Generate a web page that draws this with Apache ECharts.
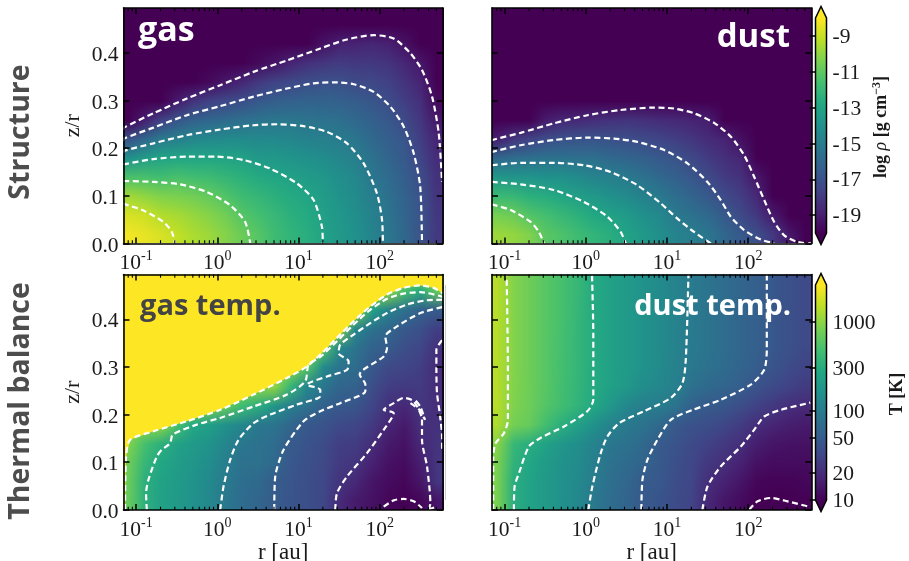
<!DOCTYPE html>
<html><head><meta charset="utf-8">
<style>html,body{margin:0;padding:0;background:#fff}#c{width:909px;height:561px}</style>
<script src="https://cdn.jsdelivr.net/npm/echarts@6/dist/echarts.min.js"></script>
</head><body><div id="c"></div>
<script>
const logRCenters=[-1.1,-.9,-.7,-.5,-.3,-.1,.1,.3,.5,.7,.9,1.1,1.3,1.5,1.7,1.9,2.1,2.3,2.5,2.7];
const zCenters=[.02,.06,.10,.14,.18,.22,.26,.30,.34,.38,.42,.46,.50];
const xMajorTicks=[.1,1,10,100];
const xMinorTicks=[.08,.09,.2,.3,.4,.5,.6,.7,.8,.9,2,3,4,5,6,7,8,9,20,30,40,50,60,70,80,90,200,300,400,500];
const yTicks=[0,.1,.2,.3,.4];
const densityTicks=[-19,-17,-15,-13,-11,-9];
const tempTicks=[10,20,50,100,300,1000];
// log10 density, one list per radius column, from midplane upward
const gasDensity=[
[-8.2,-8.7,-9.7,-11.5,-14,-17,-20,-21,-21,-21,-21,-21,-21],
[-8.4,-8.9,-10,-11.5,-13.4,-16,-19,-21,-21,-21,-21,-21,-21],
[-8.7,-9.4,-10.3,-11.7,-13,-15.1,-17.7,-20,-21,-21,-21,-21,-21],
[-9.1,-9.6,-10.4,-11.5,-12.9,-14.8,-16.8,-19.1,-21,-21,-21,-21,-21],
[-9.5,-9.9,-10.6,-11.7,-12.9,-14.5,-16.3,-18.2,-20.5,-21,-21,-21,-21],
[-9.8,-10.2,-10.9,-11.8,-12.9,-14.4,-16,-17.7,-19.7,-21,-21,-21,-21],
[-10.2,-10.6,-11.3,-12.1,-13,-14.3,-15.8,-17.4,-19.2,-21,-21,-21,-21],
[-10.7,-11.2,-11.8,-12.4,-13.1,-14.3,-15.6,-17.1,-18.7,-20.5,-21,-21,-21],
[-11.2,-11.6,-12.1,-12.7,-13.6,-14.4,-15.4,-16.7,-18,-19.7,-21,-21,-21],
[-11.8,-12,-12.4,-12.9,-13.6,-14.4,-15.3,-16.4,-17.6,-19.3,-20.8,-21,-21],
[-12.2,-12.4,-12.7,-13.1,-13.8,-14.5,-15.3,-16.3,-17.4,-18.8,-20.4,-21,-21],
[-12.5,-12.7,-12.9,-13.4,-14,-14.7,-15.4,-16.2,-17.1,-18.3,-20,-21,-21],
[-13.1,-13.2,-13.4,-13.7,-14.2,-14.8,-15.5,-16.2,-17,-18.1,-19.4,-20.8,-21],
[-13.6,-13.7,-13.9,-14.1,-14.5,-15,-15.6,-16.3,-17,-17.9,-18.9,-20.5,-21],
[-14,-14.1,-14.3,-14.5,-14.8,-15.3,-15.9,-16.5,-17.3,-18,-18.8,-20.4,-21],
[-14.6,-14.7,-14.9,-15.2,-15.5,-15.9,-16.3,-16.8,-17.4,-18,-18.7,-20.4,-21],
[-15.3,-15.4,-15.6,-15.8,-16.1,-16.4,-16.7,-17.2,-17.7,-18.2,-18.9,-20.4,-21],
[-16,-16.1,-16.2,-16.4,-16.6,-16.8,-17.3,-17.8,-18.2,-18.7,-19.4,-21,-21],
[-16.9,-16.9,-16.95,-17.2,-17.5,-17.8,-18.1,-18.4,-18.8,-19.2,-20,-21,-21],
[-18,-18.1,-18.2,-18.3,-18.5,-18.8,-19.2,-19.7,-20.2,-20.6,-21,-21,-21]];
const dustDensity=[
[-9.8,-10.5,-11.9,-13.7,-16,-19,-21,-21,-21,-21,-21,-21,-21],
[-9.95,-10.7,-12,-13.8,-15.7,-18.1,-21,-21,-21,-21,-21,-21,-21],
[-10.3,-11.3,-12.4,-13.8,-15.6,-17.6,-20.2,-21.5,-21.5,-21.5,-21.5,-21.5,-21.5],
[-11.1,-11.6,-12.6,-14,-15.5,-17.2,-19.1,-21.3,-21.5,-21.5,-21.5,-21.5,-21.5],
[-11.4,-12,-12.9,-14,-15.5,-17,-18.7,-21,-21.5,-21.5,-21.5,-21.5,-21.5],
[-11.8,-12.4,-13.3,-14.3,-15.6,-16.9,-18.6,-20.8,-21.5,-21.5,-21.5,-21.5,-21.5],
[-12.2,-12.8,-13.6,-14.6,-15.6,-16.9,-18.4,-20.5,-21.5,-21.5,-21.5,-21.5,-21.5],
[-12.5,-13.1,-14,-14.8,-15.9,-17,-18.3,-20.3,-21.5,-21.5,-21.5,-21.5,-21.5],
[-13.05,-13.5,-14.3,-15.1,-16.1,-17.1,-18.2,-20,-21.5,-21.5,-21.5,-21.5,-21.5],
[-13.6,-14,-14.7,-15.5,-16.3,-17.3,-18.3,-20,-21.5,-21.5,-21.5,-21.5,-21.5],
[-14.1,-14.4,-15.1,-15.9,-16.6,-17.5,-18.5,-20,-21.5,-21.5,-21.5,-21.5,-21.5],
[-14.6,-15.1,-15.7,-16.3,-16.9,-17.8,-18.6,-20.1,-21.5,-21.5,-21.5,-21.5,-21.5],
[-14.9,-15.5,-16.1,-16.7,-17.4,-18.1,-18.8,-20.4,-21.5,-21.5,-21.5,-21.5,-21.5],
[-15.3,-15.9,-16.6,-17.3,-17.9,-18.5,-19,-21,-21.5,-21.5,-21.5,-21.5,-21.5],
[-16,-16.6,-17.3,-17.9,-18.4,-18.8,-20,-21.5,-21.5,-21.5,-21.5,-21.5,-21.5],
[-16.6,-17.3,-17.8,-18.3,-18.7,-19.5,-21,-21.5,-21.5,-21.5,-21.5,-21.5,-21.5],
[-17.1,-18,-18.6,-19.2,-20,-21,-21.5,-21.5,-21.5,-21.5,-21.5,-21.5,-21.5],
[-18,-19.1,-20,-21,-21.5,-21.5,-21.5,-21.5,-21.5,-21.5,-21.5,-21.5,-21.5],
[-19.2,-20.5,-21,-21.5,-21.5,-21.5,-21.5,-21.5,-21.5,-21.5,-21.5,-21.5,-21.5],
[-20,-21,-21.5,-21.5,-21.5,-21.5,-21.5,-21.5,-21.5,-21.5,-21.5,-21.5,-21.5]];
// temperature in K, same layout
const gasTemp=[
[700,720,750,900,1000,1000,1000,1000,1000,1000,1000,1000,1000],
[340,340,400,500,1000,1000,1000,1000,1000,1000,1000,1000,1000],
[240,245,270,340,1000,1000,1000,1000,1000,1000,1000,1000,1000],
[200,205,215,240,500,1000,1000,1000,1000,1000,1000,1000,1000],
[165,170,180,200,280,1000,1000,1000,1000,1000,1000,1000,1000],
[130,135,150,170,230,900,1000,1000,1000,1000,1000,1000,1000],
[92,99,105,125,160,700,1000,1000,1000,1000,1000,1000,1000],
[72,74,80,90,130,450,1000,1000,1000,1000,1000,1000,1000],
[62,68,80,80,92,320,1000,1000,1000,1000,1000,1000,1000],
[50,50,68,72,85,180,1000,1000,1000,1000,1000,1000,1000],
[43,44,46,49,65,105,400,1000,1000,1000,1000,1000,1000],
[38,38,40,42,47,80,130,600,1000,1000,1000,1000,1000],
[33,33,34,36,42,55,90,140,600,1000,1000,1000,1000],
[20,23,26,28,35,48,62,85,130,1000,1000,1000,1000],
[15,19,24,27,32,44,58,72,85,130,1000,1000,1000],
[13,14,17,21,26,32,38,48,58,80,250,1000,1000],
[11,12,13,15,18,22,28,34,50,65,115,1000,1000],
[9.9,11,12,13,15,19,26,32,38,47,80,500,1000],
[11,14,16,19,21,24,26,28,32,40,56,300,1000],
[14,24,24,23,22,21,20,20,22,28,50,700,1000]];
const dustTemp=[
[850,850,860,950,1300,1400,1400,1400,1400,1400,1400,1400,1400],
[320,320,360,400,800,880,900,920,920,920,920,920,920],
[245,248,265,320,700,740,750,750,750,750,750,750,750],
[200,200,210,240,480,580,600,600,600,600,600,600,600],
[165,165,170,185,330,460,480,485,490,495,500,500,500],
[130,135,140,150,230,360,375,378,380,382,385,390,390],
[93,100,108,118,160,280,295,295,295,295,295,295,295],
[72,75,80,90,120,190,235,236,236,236,236,236,236],
[60,63,70,80,96,130,195,203,203,203,203,203,203],
[47,50,60,68,82,108,150,168,170,170,170,170,170],
[43,46,48,49,68,103,130,140,141,141,141,141,141],
[36,37,39,42,47,85,110,116,117,117,117,117,117],
[31,32,33,35,41,55,78,92,97,98,98,98,98],
[19,21,25,30,38,49,68,80,84,84,84,84,84],
[14,17,21,25,32,45,60,70,72,72,72,72,72],
[12,14,17,21,27,37,53,60,62,62,62,62,62],
[10,11,13,16,21,30,42,52,54,54,54,54,54],
[9.8,10.5,12,14,18,25,35,43,46,46,46,46,46],
[9.9,10.5,12,13,16,21,30,36,40,40,40,40,40],
[10.2,11,12,13,15,19.5,26,31,34,34,34,34,34]];
// contour lines as [log10 r, z/r]
const gasDensityContours=[
[[-1.157,.238],[-1.148,.243],[-.786,.273],[-.375,.304],[.036,.332],[.447,.36],[.858,.384],[1.269,.409],[1.598,.428],[1.926,.437],[2.173,.43],[2.379,.399],[2.522,.364],[2.646,.308],[2.728,.231],[2.769,.129]],
[[-1.157,.215],[-1.148,.22],[-.786,.243],[-.375,.269],[.036,.288],[.447,.308],[.858,.325],[1.187,.336],[1.433,.338],[1.68,.334],[1.926,.318],[2.132,.287],[2.297,.245],[2.42,.189],[2.5,.119],[2.522,0]],
[[-1.157,.19],[-1.148,.194],[-.786,.21],[-.375,.227],[.036,.239],[.447,.248],[.735,.25],[1.063,.246],[1.351,.234],[1.598,.21],[1.803,.168],[1.967,.105],[2.03,.049],[2.04,0]],
[[-1.157,.165],[-1.148,.166],[-.786,.177],[-.375,.182],[-.005,.182],[.323,.175],[.652,.157],[.981,.126],[1.187,.091],[1.289,.035],[1.3,0]],
[[-1.157,.131],[-.786,.129],[-.457,.124],[-.129,.108],[.159,.08],[.344,.045],[.406,0]],
[[-1.157,.085],[-1.148,.083],[-.91,.069],[-.663,.045],[-.56,.024],[-.519,0]]];
const dustDensityContours=[
[[-1.157,.215],[-1.152,.217],[-.803,.232],[-.392,.252],[.019,.269],[.43,.28],[.841,.285],[1.088,.283],[1.335,.273],[1.581,.253],[1.787,.224],[1.951,.185],[2.074,.14],[2.198,.091],[2.321,.045],[2.444,.017],[2.609,.003],[2.773,0]],
[[-1.157,.19],[-1.152,.192],[-.803,.206],[-.392,.217],[.019,.222],[.348,.22],[.636,.213],[.965,.196],[1.252,.168],[1.499,.129],[1.663,.091],[1.787,.056],[1.951,.028],[2.157,.008],[2.321,0]],
[[-1.157,.164],[-.803,.169],[-.392,.169],[-.022,.164],[.307,.15],[.636,.122],[.924,.084],[1.129,.052],[1.335,.024],[1.54,0]],
[[-1.157,.129],[-.803,.124],[-.392,.112],[-.022,.087],[.266,.056],[.43,.024],[.492,0]],
[[-1.157,.082],[-.926,.07],[-.679,.045],[-.577,.024],[-.515,0]]];
const gasHotBoundary=[[-1.136,0],[-1.123,.112],[-1.074,.147],[-.786,.165],[-.375,.186],[.036,.21],[.447,.242],[.858,.277],[1.104,.301],[1.289,.329],[1.474,.361],[1.68,.396],[1.885,.427],[2.091,.452],[2.296,.466],[2.502,.471],[2.666,.466],[2.781,.454]];
const gasTempContours=[
gasHotBoundary,
[[-.868,0],[-.877,.035],[-.848,.063],[-.745,.112],[-.684,.126],[-.581,.14],[-.548,.158],[-.252,.179],[.036,.193],[.447,.217],[.858,.242],[1.084,.27],[1.125,.305],[1.269,.321],[1.474,.354],[1.68,.389],[1.885,.42],[2.091,.443],[2.296,.454],[2.502,.457],[2.781,.447]],
[[.036,0],[.077,.049],[.159,.105],[.262,.147],[.447,.182],[.652,.2],[.981,.221],[1.269,.239],[1.269,.252],[1.104,.263],[1.351,.28],[1.598,.294],[1.618,.312],[1.495,.329],[1.515,.347],[1.68,.368],[1.885,.392],[2.091,.413],[2.337,.431],[2.584,.44],[2.781,.441]],
[[.702,0],[.714,.07],[.817,.126],[1.063,.186],[1.269,.207],[1.515,.224],[1.824,.249],[1.824,.263],[1.754,.284],[2.05,.322],[2.091,.34],[2.07,.364],[2.214,.385],[2.502,.413],[2.781,.426]],
[[1.454,0],[1.474,.035],[1.598,.07],[1.844,.119],[2.05,.168],[2.173,.203],[2.05,.21],[2.173,.224],[2.296,.235],[2.42,.228],[2.522,.189],[2.522,.147],[2.584,.091],[2.625,.014],[2.605,0]],
[[2.38,.224],[2.49,.21],[2.56,.189],[2.5,.217],[2.44,.23]],
[[2.769,.356],[2.699,.336],[2.699,.294],[2.707,.245],[2.74,.203],[2.769,.154],[2.769,.126]],
[[2.05,.007],[2.173,.02],[2.296,.023],[2.42,.018],[2.522,.004]],
[[2.6,.001],[2.69,.006]]];
const dustTempContours=[
[[-1.14,0],[-1.14,.112],[-1.111,.14],[-1.008,.161],[-.959,.189],[-.959,.294],[-.975,.494]],
[[-.885,0],[-.877,.049],[-.823,.077],[-.7,.133],[-.556,.151],[-.268,.175],[.019,.207],[.093,.231],[.093,.364],[.077,.494]],
[[.032,0],[.081,.049],[.184,.119],[.266,.154],[.41,.182],[.718,.207],[1.047,.235],[1.191,.266],[1.232,.315],[1.265,.494]],
[[.685,0],[.698,.063],[.759,.105],[.883,.147],[1.047,.189],[1.335,.211],[1.663,.231],[2.033,.263],[2.198,.294],[2.23,.336],[2.23,.494]],
[[1.437,0],[1.499,.049],[1.663,.091],[1.91,.133],[2.074,.168],[2.198,.196],[2.403,.21],[2.765,.225]],
[[2.013,0],[2.116,.018],[2.28,.025],[2.485,.018],[2.765,.006]]];
const viridis=['#440154','#482475','#414487','#355f8d','#2a788e','#21918c','#22a884','#44bf70','#7ad151','#bddf26','#fde725'];

const R_MIN=.07,R_MAX=600,Z_MAX=.494,TEMP_MAX=2570;
const SERIF='"Liberation Serif","DejaVu Serif",serif';
const SANS='"Open Sans","Noto Sans",sans-serif';
const LABEL_SIZE=21.5;
const hex=c=>[1,3,5].map(i=>parseInt(c.substr(i,2),16));
const rgbs=viridis.map(hex);
function cmap(t){t=Math.max(0,Math.min(1,t))*10;const i=Math.min(9,Math.floor(t)),f=t-i;
  return rgbs[i].map((v,k)=>v+(rgbs[i+1][k]-v)*f);}
const densNorm=v=>(v+20)/12;
const tempNorm=v=>Math.log10(v/10)/Math.log10(TEMP_MAX/10);
const CELL=16;
function atlas(field,norm){
  const nc=logRCenters.length,nr=zCenters.length;
  const small=document.createElement('canvas');small.width=nc;small.height=nr;
  const sc=small.getContext('2d'),img=sc.createImageData(nc,nr);
  for(let i=0;i<nc;i++)for(let j=0;j<nr;j++){const c=cmap(norm(field[i][j]));const p=4*((nr-1-j)*nc+i);
    img.data[p]=c[0];img.data[p+1]=c[1];img.data[p+2]=c[2];img.data[p+3]=255;}
  sc.putImageData(img,0,0);
  const big=document.createElement('canvas');big.width=nc*CELL;big.height=nr*CELL;
  const bc=big.getContext('2d');bc.imageSmoothingEnabled=true;bc.imageSmoothingQuality='low';
  bc.drawImage(small,0,0,nc*CELL,nr*CELL);
  return big;
}
const panels=[
 {left:123.5,top:8,field:gasDensity,norm:densNorm,contours:gasDensityContours,yLabels:true},
 {left:492,top:8,field:dustDensity,norm:densNorm,contours:dustDensityContours,yLabels:false},
 {left:123.5,top:274.5,field:gasTemp,norm:tempNorm,contours:gasTempContours,yLabels:true,xName:true},
 {left:492,top:274.5,field:dustTemp,norm:tempNorm,contours:dustTempContours,yLabels:false,xName:true}];
const PW=319.3,PH=235.4;
const grid=[],xAxis=[],yAxis=[],series=[];
const line={show:true,onZero:false,lineStyle:{color:'#000',width:1.6}};
const tick=(vals,len)=>({show:true,inside:true,length:len,customValues:vals,lineStyle:{color:'#000',width:1.5}});
const powLabel=v=>`{b|10}{s|${Math.round(Math.log10(v))}}`;
panels.forEach((p,k)=>{
  grid.push({left:p.left,top:p.top,width:PW,height:PH,outerBoundsMode:'none'});
  const xb={type:'log',logBase:10,gridIndex:k,min:R_MIN,max:R_MAX,position:'bottom',z:10,axisLine:line,splitLine:{show:false},
    minorTick:{show:false},axisTick:tick(xMajorTicks,6),
    axisLabel:{show:true,customValues:xMajorTicks,formatter:powLabel,margin:3,color:'#1a1a1a',
      rich:{b:{fontFamily:SERIF,fontSize:LABEL_SIZE,color:'#1a1a1a',padding:[6,0,0,0]},s:{fontFamily:SERIF,fontSize:14,color:'#1a1a1a',padding:[0,0,8,0]}}}};
  if(p.xName){xb.name='r [au]';xb.nameLocation='middle';xb.nameGap=30;xb.nameTextStyle={fontFamily:SERIF,fontSize:23,color:'#1a1a1a'};}
  xAxis.push(xb);
  xAxis.push({type:'log',logBase:10,gridIndex:k,min:R_MIN,max:R_MAX,position:'top',z:10,axisLine:line,splitLine:{show:false},
    axisTick:tick(xMajorTicks,6),axisLabel:{show:false}});
  const yl={type:'value',gridIndex:k,min:0,max:Z_MAX,position:'left',z:10,axisLine:line,splitLine:{show:false},axisTick:tick(yTicks,6),
    axisLabel:{show:p.yLabels,customValues:yTicks,formatter:v=>v.toFixed(1),fontFamily:SERIF,fontSize:LABEL_SIZE,color:'#1a1a1a',margin:5,verticalAlign:'top',lineHeight:5}};
  if(p.yLabels){yl.name='z/r';yl.nameLocation='middle';yl.nameGap=39;yl.nameTextStyle={fontFamily:SERIF,fontSize:22,color:'#1a1a1a'};}
  yAxis.push(yl);
  yAxis.push({type:'value',gridIndex:k,min:0,max:Z_MAX,position:'right',z:10,axisLine:line,splitLine:{show:false},axisTick:tick(yTicks,6),axisLabel:{show:false}});
  const big=atlas(p.field,p.norm),ax=2*k,nr=zCenters.length;
  const cells=[];logRCenters.forEach((lr,i)=>zCenters.forEach((z,j)=>cells.push([10**lr,z,p.field[i][j]])));
  series.push({type:'custom',xAxisIndex:ax,yAxisIndex:ax,clip:true,silent:true,z:1,encode:{x:0,y:1},data:cells,
    renderItem(params,api){
      const i=Math.floor(params.dataIndex/nr),j=params.dataIndex%nr;
      const a=api.coord([10**(logRCenters[i]-.1),zCenters[j]+.02]),b=api.coord([10**(logRCenters[i]+.1),zCenters[j]-.02]);
      const x0=Math.round(a[0]),y0=Math.round(a[1]),x1=Math.round(b[0]),y1=Math.round(b[1]);
      return {type:'image',style:{image:big,x:x0,y:y0,width:x1-x0,height:y1-y0,sx:i*CELL,sy:(nr-1-j)*CELL,sWidth:CELL,sHeight:CELL}};
    }});
  if(k===2){
    series.push({type:'custom',xAxisIndex:ax,yAxisIndex:ax,clip:true,silent:true,z:2,encode:{x:0,y:1},data:[[10,.4]],
      renderItem(params,api){
        const pts=gasHotBoundary.map(q=>api.coord([10**q[0],q[1]]));
        pts.push(api.coord([R_MAX,Z_MAX]),api.coord([R_MIN,Z_MAX]),api.coord([R_MIN,0]));
        return {type:'polygon',shape:{points:pts},style:{fill:'#fde725'}};
      }});
  }
  p.contours.forEach(c=>series.push({type:'line',xAxisIndex:ax,yAxisIndex:ax,z:3,silent:true,showSymbol:false,symbol:'none',smooth:.25,clip:true,
    data:c.map(q=>[10**q[0],q[1]]),lineStyle:{color:'#fff',width:2.2,type:[6,3.5],opacity:1},animation:false}));
  series.push({type:'custom',xAxisIndex:ax,yAxisIndex:ax,clip:false,silent:true,z:12,encode:{x:0,y:1},data:xMinorTicks.map(v=>[v,0]),
    renderItem(params,api){
      const v=api.value(0),b=api.coord([v,0]),t=api.coord([v,Z_MAX]);const st={stroke:'#000',lineWidth:1.1};
      return {type:'group',children:[
        {type:'line',shape:{x1:b[0],y1:b[1],x2:b[0],y2:b[1]-3.2},style:st},
        {type:'line',shape:{x1:t[0],y1:t[1],x2:t[0],y2:t[1]+3.2},style:st}]};
    }});
});
// colour bars
function colorbar(idx,top,height,axisCfg,range,ticks,fmt){
  grid.push({left:815.5,top,width:11,height,outerBoundsMode:'none'});
  xAxis.push({type:'value',gridIndex:idx,min:0,max:1,show:false});
  yAxis.push(Object.assign({gridIndex:idx,position:'right',min:range[0],max:range[1],z:10,axisLine:{show:false},splitLine:{show:false},
    axisTick:{show:true,inside:true,length:6,customValues:ticks,lineStyle:{color:'#000',width:1.5}},
    axisLabel:{show:true,customValues:ticks,formatter:fmt,fontFamily:SERIF,fontSize:LABEL_SIZE,color:'#1a1a1a',margin:6,verticalAlign:'top',lineHeight:3}},axisCfg));
  const stops=viridis.map((c,i)=>({offset:1-i/10,color:c}));
  series.push({type:'custom',xAxisIndex:2*4+idx-4,yAxisIndex:2*4+idx-4,silent:true,clip:false,z:5,encode:{x:0,y:1},data:[[0,range[0]]],
    renderItem(params,api){
      const a=api.coord([0,range[1]]),b=api.coord([1,range[0]]),mid=(a[0]+b[0])/2,tip=11.5;
      return {type:'group',children:[
        {type:'rect',shape:{x:a[0],y:a[1],width:b[0]-a[0],height:b[1]-a[1]},style:{fill:{type:'linear',x:0,y:0,x2:0,y2:1,colorStops:stops}}},
        {type:'polygon',shape:{points:[[a[0],a[1]],[mid,a[1]-tip],[b[0],a[1]]]},style:{fill:viridis[10]}},
        {type:'polygon',shape:{points:[[a[0],b[1]],[mid,b[1]+tip],[b[0],b[1]]]},style:{fill:viridis[0]}},
        {type:'polygon',shape:{points:[[a[0],a[1]],[mid,a[1]-tip],[b[0],a[1]],[b[0],b[1]],[mid,b[1]+tip],[a[0],b[1]]]},style:{fill:'none',stroke:'#000',lineWidth:1.5}}
      ]};
    }});
}
colorbar(4,18,215,{type:'value'},[-20,-8],densityTicks,v=>String(v));
colorbar(5,285,215,{type:'log',logBase:10},[10,TEMP_MAX],tempTicks,v=>String(Math.round(v)));

const ttl=(text,x,y,size,fill,align)=>({type:'text',x,y,z:20,silent:true,style:{text,fill,align:align||'left',verticalAlign:'middle',
  font:`bold ${size}px ${SANS}`}});
const side=(text,x,y,size)=>({type:'text',x,y,rotation:Math.PI/2,z:20,silent:true,style:{text,fill:'#4d4d4d',align:'center',verticalAlign:'middle',
  font:`bold ${size}px ${SANS}`}});
const B=`bold 18px ${SERIF}`;
const graphic=[
 ttl('gas',138,31,34,'#fff'),
 ttl('dust',790,38,33,'#fff','right'),
 ttl('gas temp.',140,307,29,'#444'),
 ttl('dust temp.',791,307,29,'#fff','right'),
 side('Structure',21,132,28.5),
 side('Thermal balance',21,401,28.5),
 {type:'text',x:881,y:127,rotation:Math.PI/2,silent:true,style:{text:'{b|log }{i|ρ}{b| [g cm}{s|−3}{b|]}',align:'center',verticalAlign:'middle',
   rich:{b:{font:B,fill:'#1a1a1a'},i:{font:`italic 18px ${SERIF}`,fill:'#1a1a1a'},s:{font:`bold 12px ${SERIF}`,fill:'#1a1a1a',padding:[0,0,8,0]}}}},
 {type:'text',x:897,y:394,rotation:Math.PI/2,silent:true,style:{text:'T [K]',font:B,fill:'#1a1a1a',align:'center',verticalAlign:'middle'}},
 {type:'line',silent:true,shape:{x1:445.5,y1:285,x2:445.5,y2:500},style:{stroke:'#cccccc',lineWidth:1}}
];
const chart=echarts.init(document.getElementById('c'),null,{renderer:'canvas'});
chart.setOption({animation:false,backgroundColor:'#fff',grid,xAxis,yAxis,series,graphic});
</script></body></html>
